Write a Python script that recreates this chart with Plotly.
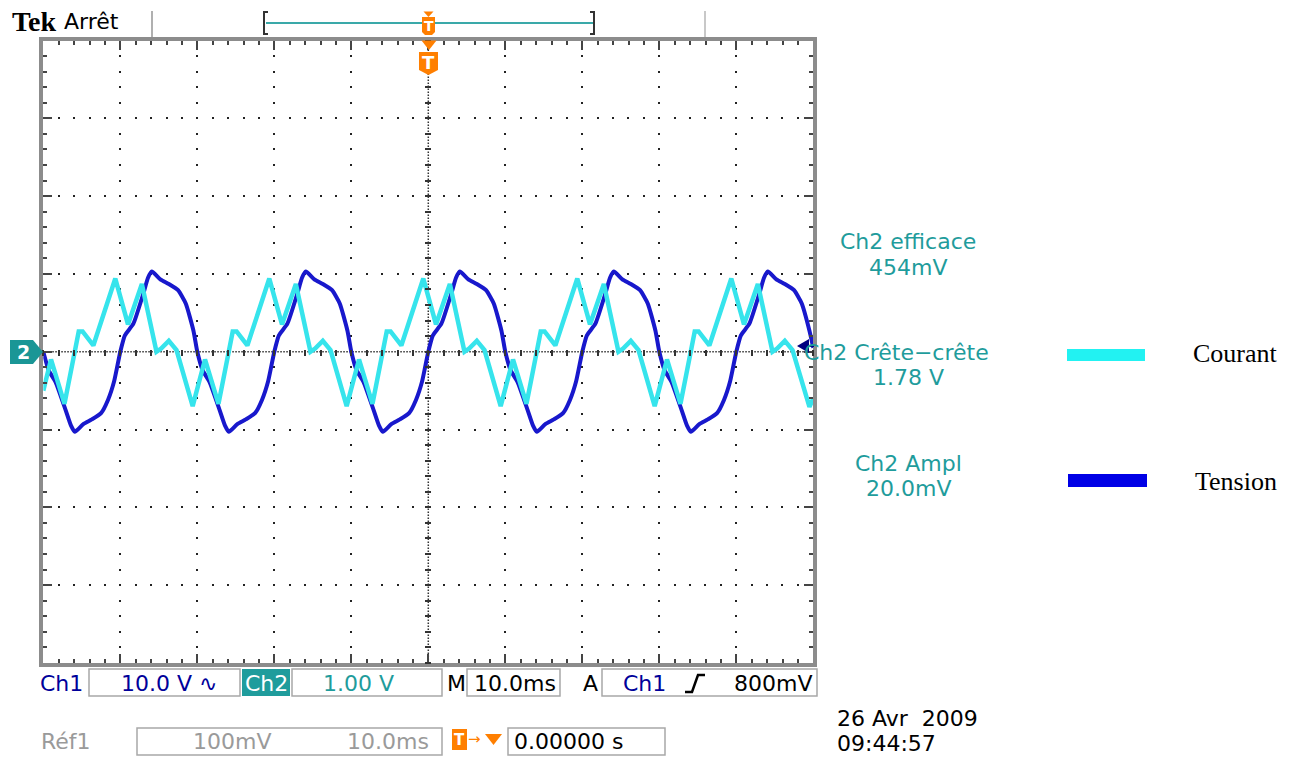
import plotly.graph_objects as go

W, H = 1298, 758

# ---------------- data (read from the screen capture) ----------------
# time in ms (10 ms/div, trigger at centre), amplitude in divisions
time_tension = [
    -50.0, -49.3, -48.4, -47.1, -46.4, -45.9, -44.8, -43.7, -42.5, -41.6, -40.8,
    -40.0, -39.4, -38.3, -37.0, -36.4, -35.9, -34.8, -33.7, -32.5, -31.5, -30.5,
    -30.0, -29.3, -28.4, -27.1, -26.4, -25.9, -24.8, -23.7, -22.5, -21.6, -20.8,
    -20.0, -19.4, -18.3, -17.0, -16.4, -15.9, -14.8, -13.7, -12.5, -11.5, -10.5,
    -10.0, -9.3, -8.4, -7.1, -6.4, -5.9, -4.8, -3.7, -2.5, -1.6, -0.8,
    0.0, 0.6, 1.7, 3.0, 3.6, 4.1, 5.2, 6.3, 7.5, 8.5, 9.5,
    10.0, 10.7, 11.6, 12.9, 13.6, 14.1, 15.2, 16.3, 17.5, 18.4, 19.2,
    20.0, 20.6, 21.7, 23.0, 23.6, 24.1, 25.2, 26.3, 27.5, 28.5, 29.5,
    30.0, 30.7, 31.6, 32.9, 33.6, 34.1, 35.2, 36.3, 37.5, 38.4, 39.2,
    40.0, 40.6, 41.7, 43.0, 43.6, 44.1, 45.2, 46.3, 47.5, 48.5, 49.5, 50.0,
]
tension = [
    0.0, -0.24, -0.39, -0.75, -0.95, -1.03, -0.93, -0.87, -0.79, -0.62, -0.38,
    0.0, 0.21, 0.36, 0.75, 0.95, 1.03, 0.93, 0.87, 0.79, 0.62, 0.27,
    0.0, -0.24, -0.39, -0.75, -0.95, -1.03, -0.93, -0.87, -0.79, -0.62, -0.38,
    0.0, 0.21, 0.36, 0.75, 0.95, 1.03, 0.93, 0.87, 0.79, 0.62, 0.27,
    0.0, -0.24, -0.39, -0.75, -0.95, -1.03, -0.93, -0.87, -0.79, -0.62, -0.38,
    0.0, 0.21, 0.36, 0.75, 0.95, 1.03, 0.93, 0.87, 0.79, 0.62, 0.27,
    0.0, -0.24, -0.39, -0.75, -0.95, -1.03, -0.93, -0.87, -0.79, -0.62, -0.38,
    0.0, 0.21, 0.36, 0.75, 0.95, 1.03, 0.93, 0.87, 0.79, 0.62, 0.27,
    0.0, -0.24, -0.39, -0.75, -0.95, -1.03, -0.93, -0.87, -0.79, -0.62, -0.38,
    0.0, 0.21, 0.36, 0.75, 0.95, 1.03, 0.93, 0.87, 0.79, 0.62, 0.27, 0.05,
]

time_courant = [
    -50.0, -49.0, -47.25, -45.4, -44.9, -43.5, -40.65,
    -39.0, -37.2, -35.3, -34.7, -33.7, -32.7, -30.6, -29.0, -27.25, -25.4, -24.9, -23.5, -20.65,
    -19.0, -17.2, -15.3, -14.7, -13.7, -12.7, -10.6, -9.0, -7.25, -5.4, -4.9, -3.5, -0.65,
    1.0, 2.8, 4.7, 5.3, 6.3, 7.3, 9.4, 11.0, 12.75, 14.6, 15.1, 16.5, 19.35,
    21.0, 22.8, 24.7, 25.3, 26.3, 27.3, 29.4, 31.0, 32.75, 34.6, 35.1, 36.5, 39.35,
    41.0, 42.8, 44.7, 45.3, 46.3, 47.3, 49.5, 50.0,
]
courant = [
    -0.50, -0.10, -0.67, 0.26, 0.26, 0.08, 0.94,
    0.35, 0.87, 0.0, 0.04, 0.14, 0.02, -0.70, -0.10, -0.67, 0.26, 0.26, 0.08, 0.94,
    0.35, 0.87, 0.0, 0.04, 0.14, 0.02, -0.70, -0.10, -0.67, 0.26, 0.26, 0.08, 0.94,
    0.35, 0.87, 0.0, 0.04, 0.14, 0.02, -0.70, -0.10, -0.67, 0.26, 0.26, 0.08, 0.94,
    0.35, 0.87, 0.0, 0.04, 0.14, 0.02, -0.70, -0.10, -0.67, 0.26, 0.26, 0.08, 0.94,
    0.35, 0.87, 0.0, 0.04, 0.14, 0.02, -0.71, -0.60,
]

measures = [("Ch2 efficace", "454mV"), ("Ch2 Crête\u2212crête", "1.78 V"), ("Ch2 Ampl", "20.0mV")]
legend_names = ["Courant", "Tension"]

# ---------------- colours / geometry ----------------
BLUE_TRACE = "#1818cc"
CYAN_TRACE = "#36e4ec"
TEAL = "#1f9c9c"
NAVY = "#00009a"
ORANGE = "#ff7f00"
GRAY_TXT = "#9a9a9a"
BOX = "#a8a8a8"
FONT = "DejaVu Sans"

X0, X1 = 43.3, 813.3      # plot area in pixels
Y0, Y1 = 40.5, 662.9
XC, YC = 428.3, 351.7


def px(x):
    return x / W


def py(y):
    return 1 - y / H


def path(points, close=True):
    s = "M " + " L ".join(f"{px(x):.5f},{py(y):.5f}" for x, y in points)
    return s + (" Z" if close else "")


fig = go.Figure()
fig.add_trace(go.Scatter(x=time_tension, y=tension, mode="lines", name=legend_names[1],
                         line=dict(color=BLUE_TRACE, width=4, shape="spline", smoothing=0.5),
                         hoverinfo="skip"))
fig.add_trace(go.Scatter(x=time_courant, y=courant, mode="lines", name=legend_names[0],
                         line=dict(color=CYAN_TRACE, width=4.5), hoverinfo="skip"))
# carrier for the centre-line tick axes
fig.add_trace(go.Scatter(x=[None], y=[None], xaxis="x2", yaxis="y2", showlegend=False,
                         hoverinfo="skip", mode="lines"))

axis_common = dict(showticklabels=False, zeroline=False, showline=True, linecolor="#8c8c8c",
                   linewidth=4, mirror="ticks", ticks="inside", ticklen=9, tickwidth=1.5,
                   tickcolor="#444", gridcolor="#222", gridwidth=2, showgrid=True, fixedrange=True)

fig.update_layout(
    width=W, height=H, margin=dict(l=0, r=0, t=0, b=0),
    paper_bgcolor="white", plot_bgcolor="white", showlegend=False,
    xaxis=dict(domain=[px(X0), px(X1)], range=[-50, 50], tick0=0, dtick=10,
               griddash="1px,13.56px,1px,0px",
               minor=dict(dtick=2, tick0=0, ticks="inside", ticklen=4, tickwidth=1.5,
                          tickcolor="#444", showgrid=False),
               **axis_common),
    yaxis=dict(domain=[py(Y1), py(Y0)], range=[-4, 4], tick0=0, dtick=1,
               griddash="1px,13.4px,1px,0px",
               minor=dict(dtick=0.2, tick0=0, ticks="inside", ticklen=4, tickwidth=1.5,
                          tickcolor="#444", showgrid=False),
               **axis_common),
    xaxis2=dict(overlaying="x", anchor="free", position=py(YC) + 3 / H, range=[-50, 50],
                tick0=0, dtick=2, ticks="outside", ticklen=6, tickwidth=1.5, tickcolor="#333",
                showticklabels=False, showgrid=False, zeroline=False, showline=False),
    yaxis2=dict(overlaying="y", anchor="free", position=px(XC) + 3 / W, side="left",
                range=[-4, 4], tick0=0, dtick=0.2, ticks="outside", ticklen=6, tickwidth=1.5,
                tickcolor="#333", showticklabels=False, showgrid=False, zeroline=False,
                showline=False),
)

shapes = []
# dense dotted centre lines
shapes.append(dict(type="line", xref="x", yref="y", x0=-50, x1=50, y0=0, y1=0, layer="below",
                   line=dict(color="#333", width=1.5, dash="1.5px,1.5px")))
shapes.append(dict(type="line", xref="x", yref="y", x0=0, x1=0, y0=-4, y1=4, layer="below",
                   line=dict(color="#333", width=1.5, dash="1.5px,1.5px")))


def rect(x0, y0, x1, y1, fill="rgba(0,0,0,0)", line=BOX, lw=1.5):
    shapes.append(dict(type="rect", xref="paper", yref="paper", x0=px(x0), x1=px(x1),
                       y0=py(y1), y1=py(y0), fillcolor=fill,
                       line=dict(color=line, width=lw)))


def poly(points, fill, close=True, lw=0, lc=None):
    shapes.append(dict(type="path", xref="paper", yref="paper", path=path(points, close),
                       fillcolor=fill if close else "rgba(0,0,0,0)",
                       line=dict(color=lc or fill, width=lw)))


def seg(x0, y0, x1, y1, color, w):
    shapes.append(dict(type="line", xref="paper", yref="paper", x0=px(x0), x1=px(x1),
                       y0=py(y0), y1=py(y1), line=dict(color=color, width=w)))


# top status bar
seg(152, 11, 152, 37, "#b0b0b0", 2)
seg(705, 11, 705, 37, "#c8c8c8", 2)
seg(266, 23, 593, 23, "#3aa9a9", 2)
poly([(268, 12), (264, 12), (264, 34), (268, 34)], "#333", close=False, lw=2)
poly([(590, 12), (594, 12), (594, 34), (590, 34)], "#333", close=False, lw=2)
# trigger position marker (top bar)
poly([(423.5, 11.5), (433.5, 11.5), (428.5, 17)], ORANGE)
poly([(422, 17), (435, 17), (435, 32), (432, 35), (425, 35), (422, 32)], ORANGE)
# trigger marker below the frame
poly([(421.5, 40.5), (436.5, 40.5), (429, 50)], ORANGE)
poly([(419, 52), (438, 52), (438, 70), (428.5, 75), (419, 70)], ORANGE)
# channel 2 ground marker
poly([(10, 340), (33, 340), (43, 352), (33, 364), (10, 364)], "#1a9696")
# channel 1 trigger level marker
poly([(797, 346), (809, 339), (809, 353)], "#000080")
seg(808, 346, 814, 346, "#000080", 2)

# bottom readout boxes
rect(89, 669, 240, 696)
rect(242, 669, 290, 696, fill=TEAL, line=TEAL, lw=0)
rect(292, 669, 442, 696)
rect(467, 669, 560, 696)
rect(602, 669, 817, 696)
rect(137, 728, 442, 755)
rect(508, 728, 665, 755)
rect(452, 729, 467, 750, fill=ORANGE, line=ORANGE, lw=0)
poly([(485, 734), (502, 734), (493.5, 745)], ORANGE)
# trigger slope symbol
poly([(685, 692), (692, 692), (698, 675), (705, 675)], "#000", close=False, lw=2.5)

# legend swatches
rect(1067, 349, 1145, 361, fill="#22f2f2", line="#22f2f2", lw=0)
rect(1068, 474, 1147, 487, fill="#0000e6", line="#0000e6", lw=0)

annotations = []


def txt(x, y, s, color="#000", size=22, family=FONT, xanchor="center", bold=False):
    annotations.append(dict(x=px(x), y=py(y), xref="paper", yref="paper",
                            text=f"<b>{s}</b>" if bold else s,
                            showarrow=False, xanchor=xanchor, yanchor="middle",
                            font=dict(color=color, size=size, family=family)))


txt(10, 22, "Tek", size=28, family="Liberation Serif", xanchor="left", bold=True)
txt(62, 22, "Arrêt", size=22, xanchor="left")
txt(428.5, 26, "T", color="white", size=14, bold=True)
txt(428.5, 62, "T", color="white", size=18, bold=True)
txt(23, 352, "2", color="white", size=19, bold=True)

# measurements
mpos = [(908, 242, 267), (896, 352, 377), (908, 463, 488)]
for (name, val), (cx, y1, y2) in zip(measures, mpos):
    txt(cx, y1, name, color=TEAL)
    txt(908, y2, val, color=TEAL)

# legend labels
txt(1235, 353, legend_names[0], size=26, family="Liberation Serif")
txt(1236, 481, legend_names[1], size=26, family="Liberation Serif")

# bottom readouts
txt(61, 683, "Ch1", color=NAVY)
txt(169, 683, "10.0 V \u223f", color=NAVY)
txt(266, 683, "Ch2", color="white")
txt(358, 683, "1.00 V", color=TEAL)
txt(456, 683, "M")
txt(515, 683, "10.0ms")
txt(590, 683, "A")
txt(644, 683, "Ch1", color=NAVY)
txt(773, 683, "800mV")
txt(66, 741, "Réf1", color=GRAY_TXT)
txt(232, 741, "100mV", color=GRAY_TXT)
txt(388, 741, "10.0ms", color=GRAY_TXT)
txt(459.5, 740, "T", color="white", size=15, bold=True)
txt(474, 739, "\u2192", color=ORANGE, size=15)
txt(512, 741, "0.00000 s", xanchor="left")
txt(835, 718, "26 Avr  2009", xanchor="left")
txt(835, 743, "09:44:57", xanchor="left")

fig.update_layout(shapes=shapes, annotations=annotations)
fig.write_html("out.html")
